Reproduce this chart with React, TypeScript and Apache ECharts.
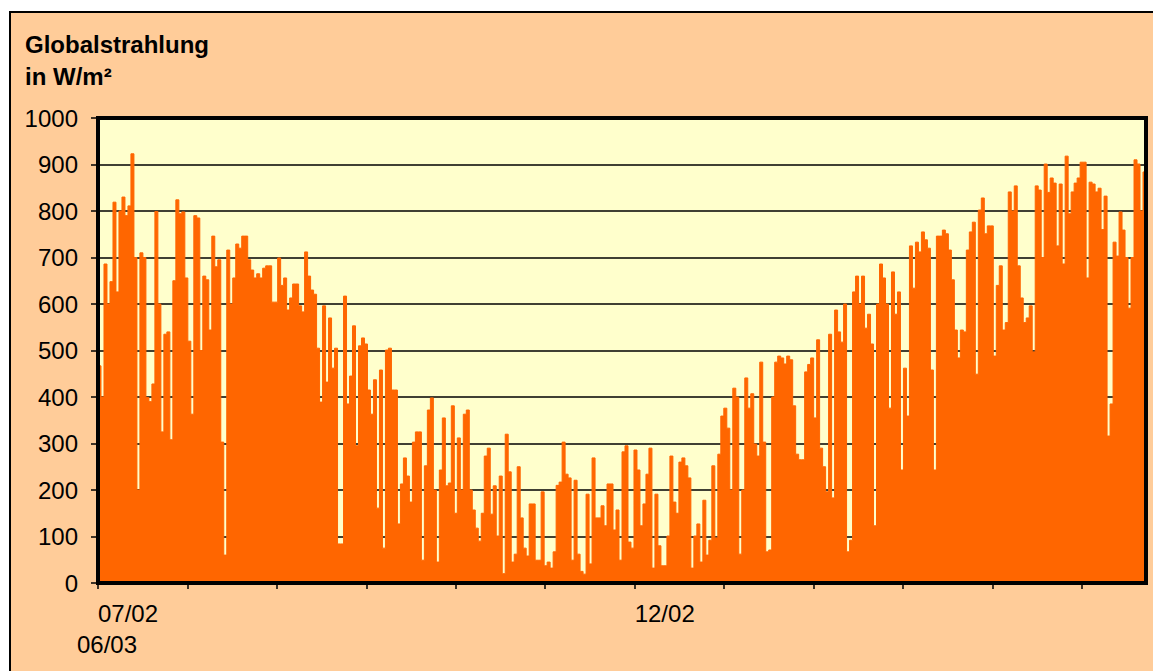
import React, { useEffect, useRef } from "react";
import * as echarts from "echarts";

// Global radiation (W/m²), one value per day column.
const radJulAug = [
  467, 400, 686, 600, 648, 819, 626, 800, 830, 790, 811, 923, 700, 200, 710, 700, 399, 390, 428, 799,
  600, 325, 535, 540, 308, 650, 824, 794, 798, 656, 520, 363, 790, 785, 500, 660, 652, 544, 746, 680,
  695, 303, 60, 716, 600, 656, 729, 720, 746, 746, 695, 673, 656, 665, 656, 677, 682,
];
const radAugOct = [
  682, 604, 604, 699, 640, 656, 587, 613, 643, 643, 596, 583, 712, 660, 630, 621, 505, 389, 596, 432,
  570, 462, 505, 84, 84, 617, 385, 445, 553, 295, 510, 527, 514, 415, 363, 437, 161, 458, 75, 501,
  505, 415, 415, 127, 213, 269, 230, 174, 303, 325, 325, 49, 252, 372, 398, 200, 45, 243, 355, 209,
];
const radOctDec = [
  215, 381, 150, 312, 200, 363, 372, 200, 157, 118, 90, 150, 273, 290, 148, 209, 101, 230, 20, 320,
  239, 45, 62, 250, 140, 75, 58, 170, 170, 49, 49, 196, 37, 45, 32, 67, 210, 217, 303, 234,
  226, 49, 221, 62, 25, 19, 191, 41, 269, 140, 140, 166, 123, 213, 213, 114, 157, 49, 282,
];
const radDecFeb = [
  295, 88, 75, 286, 243, 123, 170, 234, 290, 32, 191, 80, 37, 37, 101, 273, 174, 150, 260, 269,
  252, 226, 32, 101, 127, 45, 178, 60, 92, 252, 97, 277, 359, 376, 333, 200, 419, 400, 62, 200,
  441, 376, 407, 299, 273, 475, 303, 67, 71, 400, 475, 488, 484, 471, 488, 480, 381, 277, 265, 265,
];
const radFebApr = [
  454, 470, 484, 355, 523, 290, 250, 196, 535, 183, 587, 540, 518, 600, 67, 92, 626, 660, 600, 660,
  548, 578, 514, 123, 600, 686, 656, 600, 376, 669, 578, 626, 243, 462, 359, 725, 634, 733, 712, 755,
  738, 720, 458, 243, 746, 746, 759, 751, 716, 652, 544, 484, 544, 540, 716, 755, 776, 449, 802,
];
const radAprJun = [
  828, 751, 768, 768, 488, 640, 682, 544, 560, 841, 800, 854, 682, 613, 560, 570, 596, 497, 854, 845,
  700, 901, 840, 871, 860, 725, 858, 686, 918, 794, 841, 860, 871, 905, 905, 656, 862, 858, 841, 849,
  760, 832, 316, 385, 733, 703, 798, 759, 700, 591, 700, 910, 901, 800, 884,
];

const radiation = [
  ...radJulAug, ...radAugOct, ...radOctDec, ...radDecFeb, ...radFebApr, ...radAprJun,
];

// x-axis: tick positions (days from start) and labels
const axisDays = 351.5;
const tickDays = [0, 30, 60, 90, 120, 150, 180, 210, 240, 270, 300, 330];
const labelDays = [0, 180];
const labelTexts = ["07/02", "12/02"];
const secondRowLabel = "06/03";

const yMin = 0;
const yMax = 1000;
const yInterval = 100;

const titleText = "Globalstrahlung\nin W/m²";

const FONT = 'Arial, "Liberation Sans", Helvetica, sans-serif';

export default function App() {
  const ref = useRef<HTMLDivElement>(null);

  useEffect(() => {
    if (!ref.current) return;
    const chart = echarts.init(ref.current, null, { renderer: "svg" });

    // step series: each day holds its value until the next day starts
    const stepData = [...radiation, radiation[radiation.length - 1]];
    const categories = stepData.map((_, i) => String(i));

    const gridLeft = 98;
    const gridTop = 118;
    const gridW = 1048;
    const gridH = 465;

    chart.setOption({
      animation: false,
      backgroundColor: "transparent",
      title: {
        text: titleText,
        left: 25,
        top: 28,
        padding: 0,
        textStyle: {
          fontSize: 24,
          fontWeight: "bold",
          lineHeight: 32,
          color: "#000",
          fontFamily: FONT,
        },
      },
      grid: {
        left: gridLeft,
        top: gridTop,
        width: gridW,
        height: gridH,
        show: true,
        backgroundColor: "#FFFFCC",
        borderWidth: 0,
        containLabel: false,
      },
      xAxis: [
        {
          type: "category",
          data: categories,
          boundaryGap: false,
          show: false,
        },
        {
          type: "value",
          min: 0,
          max: axisDays,
          position: "bottom",
          axisLine: { show: false },
          splitLine: { show: false },
          axisTick: {
            show: true,
            length: 6,
            customValues: tickDays,
            lineStyle: { color: "#000", width: 1.5 },
          },
          axisLabel: {
            customValues: labelDays,
            formatter: (v: number) => {
              const i = labelDays.indexOf(v);
              return i >= 0 ? labelTexts[i] : "";
            },
            align: "left",
            fontSize: 24,
            color: "#000",
            fontFamily: FONT,
            margin: 18,
          },
        },
      ],
      yAxis: {
        type: "value",
        min: yMin,
        max: yMax,
        interval: yInterval,
        axisLine: { show: false },
        axisTick: {
          show: true,
          length: 7,
          lineStyle: { color: "#000", width: 1.5 },
        },
        splitLine: { show: true, lineStyle: { color: "#000", width: 1.5 } },
        axisLabel: {
          formatter: (v: number) => String(v),
          fontSize: 24,
          color: "#000",
          fontFamily: FONT,
          margin: 20,
        },
      },
      series: [
        {
          type: "line",
          xAxisIndex: 0,
          yAxisIndex: 0,
          data: stepData,
          step: "end",
          symbol: "none",
          silent: true,
          lineStyle: { color: "#FF6600", width: 1 },
          areaStyle: { color: "#FF6600", opacity: 1 },
          z: 2,
        },
      ],
      graphic: [
        {
          type: "rect",
          z: 100,
          silent: true,
          shape: { x: gridLeft, y: gridTop, width: gridW, height: gridH },
          style: { fill: "none", stroke: "#000", lineWidth: 4 },
        },
        {
          type: "text",
          z: 100,
          silent: true,
          x: 77,
          y: 644,
          style: {
            text: secondRowLabel,
            fill: "#000",
            font: `24px ${FONT}`,
            align: "left",
            verticalAlign: "middle",
          },
        },
      ],
    });

    return () => chart.dispose();
  }, []);

  return (
    <div
      style={{
        position: "fixed",
        left: 0,
        top: 0,
        width: 1153,
        height: 671,
        overflow: "hidden",
        background: "#fff",
      }}
    >
      <div
        style={{
          position: "absolute",
          left: 9,
          top: 11,
          width: 1200,
          height: 720,
          background: "#FFCC99",
          border: "2px solid #000",
        }}
      />
      <div
        ref={ref}
        style={{ position: "absolute", left: 0, top: 0, width: 1153, height: 671 }}
      />
    </div>
  );
}
